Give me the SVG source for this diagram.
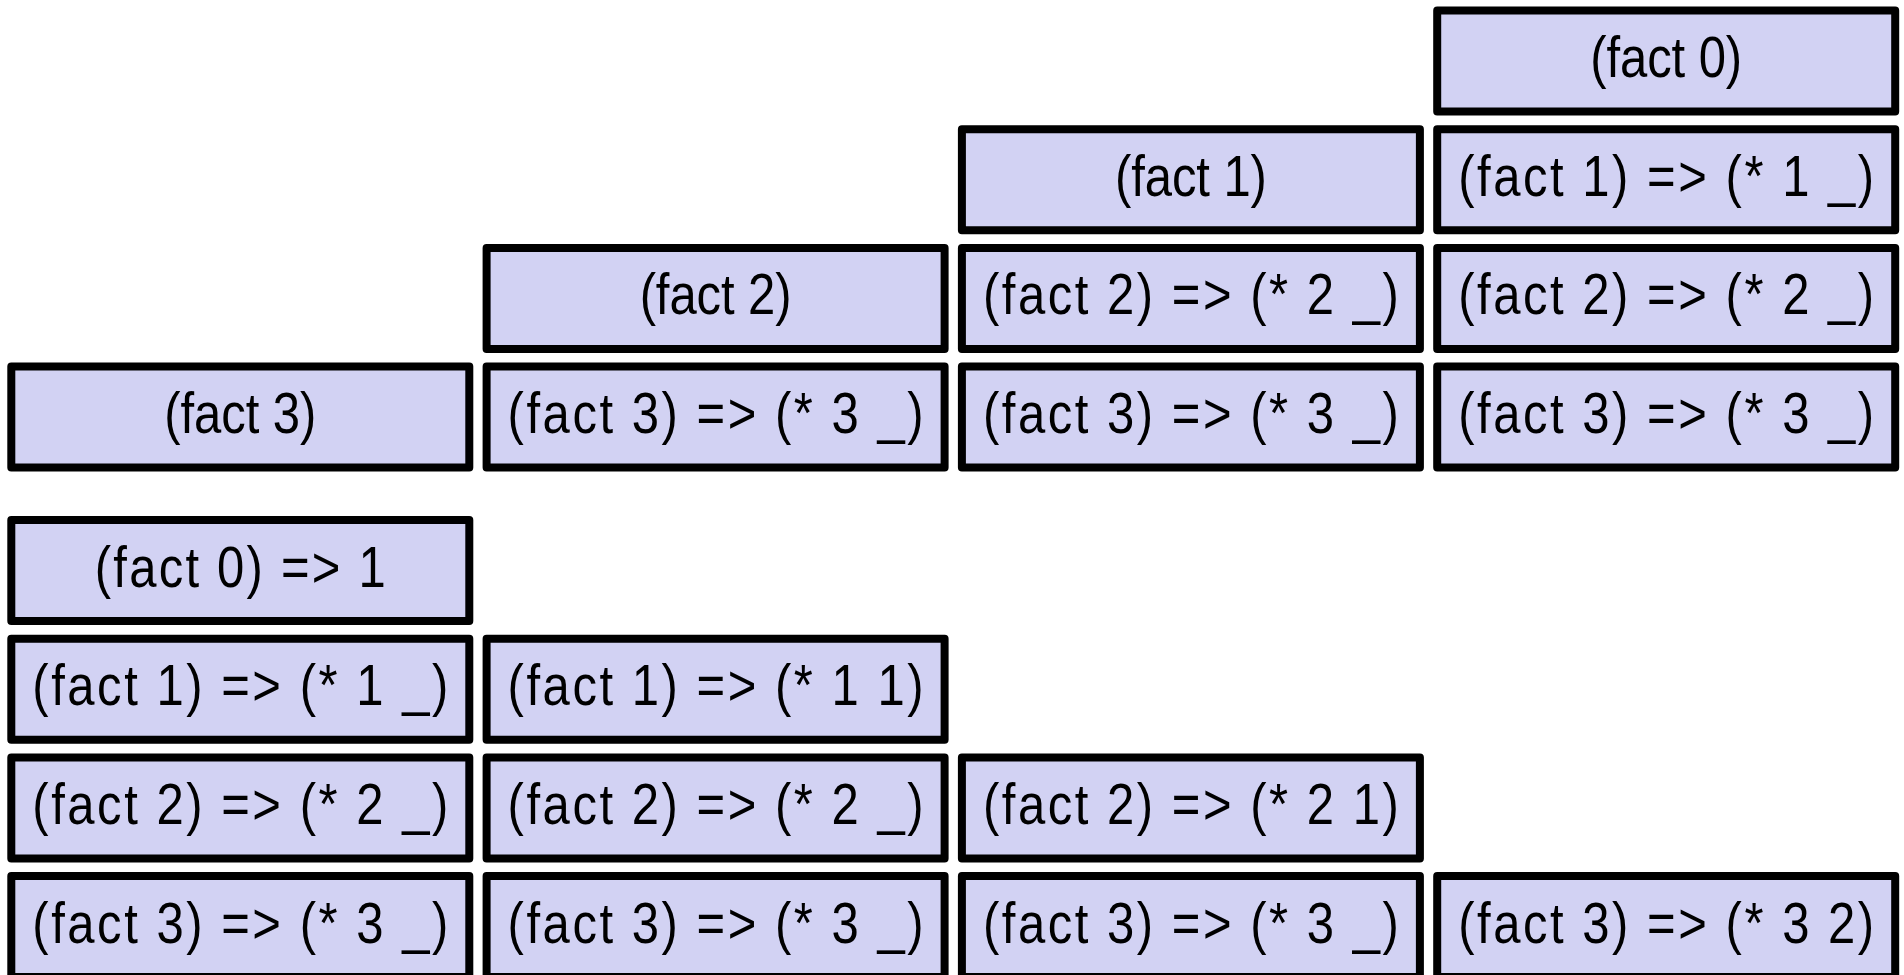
<svg xmlns="http://www.w3.org/2000/svg" width="1904" height="975" viewBox="0 0 1904 975">
<style>
.b{fill:#d2d2f3;stroke:#000;stroke-width:8;stroke-linejoin:round}
.t{font-family:"Liberation Sans",Arial,sans-serif;font-size:57px;fill:#000;text-anchor:middle}
</style>
<rect width="1904" height="975" fill="#fff"/>
<g id="top">
<g id="t-r0-c3"><rect class="b" x="1437.2" y="10.5" width="458" height="101"/><text class="t" transform="translate(1666.2,77) scale(0.86,1)" textLength="176.7" lengthAdjust="spacing">(fact 0)</text></g>
<g id="t-r1-c2"><rect class="b" x="961.9" y="129.2" width="458" height="101"/><text class="t" transform="translate(1190.9,195.7) scale(0.86,1)" textLength="176.7" lengthAdjust="spacing">(fact 1)</text></g>
<g id="t-r1-c3"><rect class="b" x="1437.2" y="129.2" width="458" height="101"/><text class="t" transform="translate(1666.2,195.7) scale(0.86,1)" textLength="483.7" lengthAdjust="spacing">(fact 1) =&gt; (* 1 _)</text></g>
<g id="t-r2-c1"><rect class="b" x="486.6" y="247.9" width="458" height="101"/><text class="t" transform="translate(715.6,314.4) scale(0.86,1)" textLength="176.7" lengthAdjust="spacing">(fact 2)</text></g>
<g id="t-r2-c2"><rect class="b" x="961.9" y="247.9" width="458" height="101"/><text class="t" transform="translate(1190.9,314.4) scale(0.86,1)" textLength="483.7" lengthAdjust="spacing">(fact 2) =&gt; (* 2 _)</text></g>
<g id="t-r2-c3"><rect class="b" x="1437.2" y="247.9" width="458" height="101"/><text class="t" transform="translate(1666.2,314.4) scale(0.86,1)" textLength="483.7" lengthAdjust="spacing">(fact 2) =&gt; (* 2 _)</text></g>
<g id="t-r3-c0"><rect class="b" x="11.3" y="366.6" width="458" height="101"/><text class="t" transform="translate(240.3,433.1) scale(0.86,1)" textLength="176.7" lengthAdjust="spacing">(fact 3)</text></g>
<g id="t-r3-c1"><rect class="b" x="486.6" y="366.6" width="458" height="101"/><text class="t" transform="translate(715.6,433.1) scale(0.86,1)" textLength="483.7" lengthAdjust="spacing">(fact 3) =&gt; (* 3 _)</text></g>
<g id="t-r3-c2"><rect class="b" x="961.9" y="366.6" width="458" height="101"/><text class="t" transform="translate(1190.9,433.1) scale(0.86,1)" textLength="483.7" lengthAdjust="spacing">(fact 3) =&gt; (* 3 _)</text></g>
<g id="t-r3-c3"><rect class="b" x="1437.2" y="366.6" width="458" height="101"/><text class="t" transform="translate(1666.2,433.1) scale(0.86,1)" textLength="483.7" lengthAdjust="spacing">(fact 3) =&gt; (* 3 _)</text></g>
</g>
<g id="bottom">
<g id="b-r0-c0"><rect class="b" x="11.3" y="520" width="458" height="101"/><text class="t" transform="translate(240.3,586.5) scale(0.86,1)" textLength="338.4" lengthAdjust="spacing">(fact 0) =&gt; 1</text></g>
<g id="b-r1-c0"><rect class="b" x="11.3" y="638.7" width="458" height="101"/><text class="t" transform="translate(240.3,705.2) scale(0.86,1)" textLength="483.7" lengthAdjust="spacing">(fact 1) =&gt; (* 1 _)</text></g>
<g id="b-r1-c1"><rect class="b" x="486.6" y="638.7" width="458" height="101"/><text class="t" transform="translate(715.6,705.2) scale(0.86,1)" textLength="483.7" lengthAdjust="spacing">(fact 1) =&gt; (* 1 1)</text></g>
<g id="b-r2-c0"><rect class="b" x="11.3" y="757.4" width="458" height="101"/><text class="t" transform="translate(240.3,823.9) scale(0.86,1)" textLength="483.7" lengthAdjust="spacing">(fact 2) =&gt; (* 2 _)</text></g>
<g id="b-r2-c1"><rect class="b" x="486.6" y="757.4" width="458" height="101"/><text class="t" transform="translate(715.6,823.9) scale(0.86,1)" textLength="483.7" lengthAdjust="spacing">(fact 2) =&gt; (* 2 _)</text></g>
<g id="b-r2-c2"><rect class="b" x="961.9" y="757.4" width="458" height="101"/><text class="t" transform="translate(1190.9,823.9) scale(0.86,1)" textLength="483.7" lengthAdjust="spacing">(fact 2) =&gt; (* 2 1)</text></g>
<g id="b-r3-c0"><rect class="b" x="11.3" y="876.1" width="458" height="101"/><text class="t" transform="translate(240.3,942.6) scale(0.86,1)" textLength="483.7" lengthAdjust="spacing">(fact 3) =&gt; (* 3 _)</text></g>
<g id="b-r3-c1"><rect class="b" x="486.6" y="876.1" width="458" height="101"/><text class="t" transform="translate(715.6,942.6) scale(0.86,1)" textLength="483.7" lengthAdjust="spacing">(fact 3) =&gt; (* 3 _)</text></g>
<g id="b-r3-c2"><rect class="b" x="961.9" y="876.1" width="458" height="101"/><text class="t" transform="translate(1190.9,942.6) scale(0.86,1)" textLength="483.7" lengthAdjust="spacing">(fact 3) =&gt; (* 3 _)</text></g>
<g id="b-r3-c3"><rect class="b" x="1437.2" y="876.1" width="458" height="101"/><text class="t" transform="translate(1666.2,942.6) scale(0.86,1)" textLength="483.7" lengthAdjust="spacing">(fact 3) =&gt; (* 3 2)</text></g>
</g>
</svg>
